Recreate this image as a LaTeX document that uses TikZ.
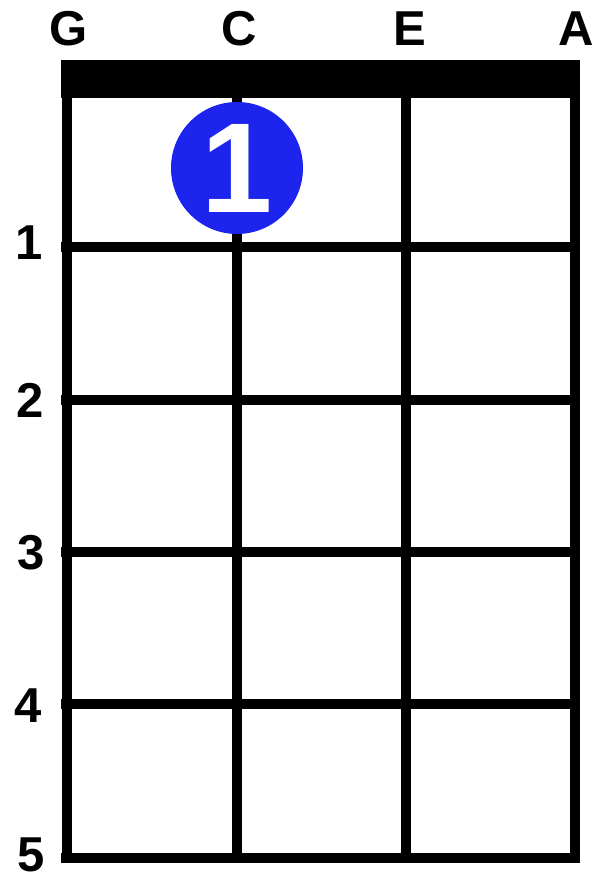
\documentclass[tikz,border=0pt]{standalone}
\usepackage{fontspec}
\setmainfont{Liberation Sans}
\definecolor{dotblue}{RGB}{28,36,238}
\begin{document}
\begin{tikzpicture}[x=1pt,y=-1pt,
  gridline/.style={line width=10pt,line cap=butt},
  strlabel/.style={font=\bfseries\fontsize{49}{49}\selectfont,anchor=base,inner sep=0pt},
  fretlabel/.style={font=\bfseries\fontsize{49}{49}\selectfont,anchor=base,inner sep=0pt},
  fingerdot/.style={circle,fill=dotblue,inner sep=0pt,minimum size=132pt,text=white,font=\bfseries\fontsize{128}{128}\selectfont}]
\useasboundingbox (0,0) rectangle (593,882);
% nut
\fill (61,60) rectangle (580,98);
% strings
\foreach \x in {66.5,237,406,574.5}
  \draw[gridline] (\x,90) -- (\x,863);
% frets
\foreach \y in {247,399.5,552,704,858}
  \draw[gridline] (61,\y) -- (580,\y);
% string names
\node[strlabel] (sG) at (69,46) {G};
\node[strlabel] (sC) at (239,46) {C};
\node[strlabel] (sE) at (410,46) {E};
\node[strlabel] (sA) at (576,46) {A};
% fret numbers
\node[fretlabel] (f1) at (29,260) {1};
\node[fretlabel] (f2) at (30,417) {2};
\node[fretlabel] (f3) at (31,569) {3};
\node[fretlabel] (f4) at (28,722) {4};
\node[fretlabel] (f5) at (31,871) {5};
% finger
\node[fingerdot] (dot) at (237,168) {1};
\end{tikzpicture}
\end{document}
